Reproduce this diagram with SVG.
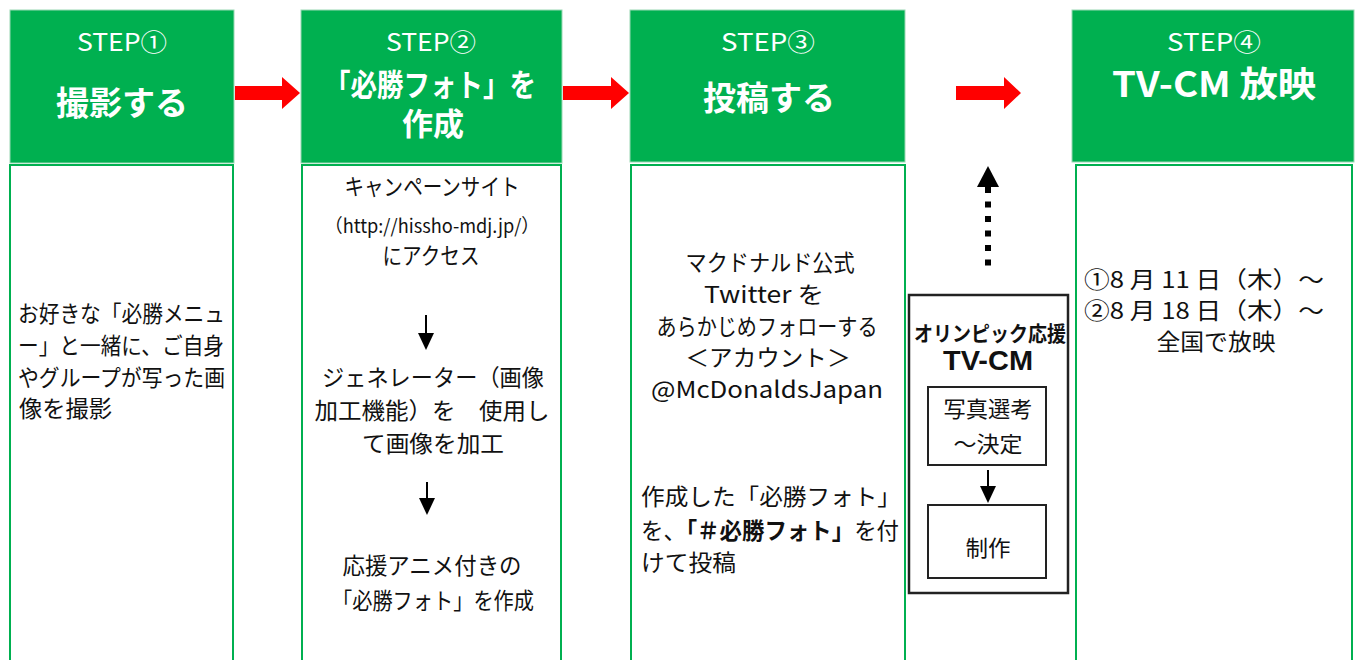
<svg xmlns="http://www.w3.org/2000/svg" width="1357" height="660" viewBox="0 0 1357 660">
<style>
.hdr{fill:#00B050;stroke:#9ad8b4;stroke-width:1}
.bd{fill:#fff;stroke:#00B050;stroke-width:2}
.step{font-family:'Noto Sans CJK JP',sans-serif;font-size:24px;fill:#fff;text-anchor:middle}
.ttl{font-family:'Noto Sans CJK JP',sans-serif;font-size:33px;font-weight:bold;fill:#fff;text-anchor:middle}
.t{font-family:'Noto Sans CJK JP',sans-serif;font-size:23px;fill:#111}
.c{text-anchor:middle}
.b{font-weight:bold}
.red{fill:#FF0000}
.blk{stroke:#000;stroke-width:2;fill:none}
.box{fill:#fff;stroke:#222;stroke-width:2.5}
</style>
<defs>
<marker id="ah" viewBox="0 0 17 16" refX="15" refY="8" markerWidth="17" markerHeight="16" markerUnits="userSpaceOnUse" orient="auto">
<path d="M0,0 L17,8 L0,16 Z" fill="#000"/>
</marker>
</defs>

<g id="step1">
<rect class="hdr" x="10" y="10" width="224" height="153"/>
<text class="step" x="122" y="51" textLength="90" lengthAdjust="spacingAndGlyphs">STEP①</text>
<text class="ttl" x="122" y="115">撮影する</text>
<rect class="bd" x="10" y="165" width="223" height="510"/>
<text class="t" x="18" y="322" textLength="207" lengthAdjust="spacingAndGlyphs">お好きな「必勝メニュ</text>
<text class="t" x="18" y="354" textLength="206" lengthAdjust="spacingAndGlyphs">ー」と一緒に、ご自身</text>
<text class="t" x="18" y="386" textLength="207" lengthAdjust="spacingAndGlyphs">やグループが写った画</text>
<text class="t" x="19" y="417" textLength="93" lengthAdjust="spacingAndGlyphs">像を撮影</text>
</g>

<g id="step2">
<rect class="hdr" x="301" y="10" width="261" height="153"/>
<text class="step" x="431" y="51" textLength="90" lengthAdjust="spacingAndGlyphs">STEP②</text>
<text class="ttl" style="font-size:31px"><tspan x="430" y="96" textLength="212" lengthAdjust="spacingAndGlyphs">「必勝フォト」を</tspan><tspan x="433" y="135">作成</tspan></text>
<rect class="bd" x="302" y="165" width="259" height="510"/>
<text class="t c" x="432" y="195" textLength="175" lengthAdjust="spacingAndGlyphs">キャンペーンサイト</text>
<text class="t c" x="432" y="233" style="font-size:19px" textLength="215" lengthAdjust="spacingAndGlyphs">（http://hissho-mdj.jp/）</text>
<text class="t c" x="431" y="264" textLength="97" lengthAdjust="spacingAndGlyphs">にアクセス</text>
<text class="t c" x="433" y="386" textLength="222" lengthAdjust="spacingAndGlyphs">ジェネレーター（画像</text>
<text class="t c" x="432" y="419" textLength="235" lengthAdjust="spacingAndGlyphs">加工機能）を　使用し</text>
<text class="t c" x="433" y="452" textLength="142" lengthAdjust="spacingAndGlyphs">て画像を加工</text>
<text class="t c" x="432" y="574" textLength="179" lengthAdjust="spacingAndGlyphs">応援アニメ付きの</text>
<text class="t c" x="433" y="609" textLength="202" lengthAdjust="spacingAndGlyphs">「必勝フォト」を作成</text>
</g>

<g id="step3">
<rect class="hdr" x="630" y="10" width="275" height="152"/>
<text class="step" x="768" y="51" textLength="94" lengthAdjust="spacingAndGlyphs">STEP③</text>
<text class="ttl" x="769" y="110">投稿する</text>
<rect class="bd" x="631" y="165" width="274" height="510"/>
<text class="t c" x="770" y="271" textLength="169" lengthAdjust="spacingAndGlyphs">マクドナルド公式</text>
<text class="t c" x="764" y="303" textLength="120" lengthAdjust="spacingAndGlyphs">Twitter を</text>
<text class="t c" x="767" y="335" textLength="221" lengthAdjust="spacingAndGlyphs">あらかじめフォローする</text>
<text class="t c" x="768" y="366" textLength="165" lengthAdjust="spacingAndGlyphs">＜アカウント＞</text>
<text class="t c" x="767" y="398" textLength="232" lengthAdjust="spacingAndGlyphs">@McDonaldsJapan</text>
<text class="t" x="641" y="505" textLength="260" lengthAdjust="spacingAndGlyphs">作成した「必勝フォト」</text>
<text class="t" x="641" y="539" textLength="258" lengthAdjust="spacingAndGlyphs">を、<tspan class="b">「＃必勝フォト」</tspan>を付</text>
<text class="t" x="641" y="571" textLength="95" lengthAdjust="spacingAndGlyphs">けて投稿</text>
</g>

<g id="tvcm">
<rect class="box" x="909" y="295" width="159" height="298"/>
<text class="t c b" x="990" y="341" style="font-size:21px" textLength="152" lengthAdjust="spacingAndGlyphs">オリンピック応援</text>
<text class="t c b" x="988" y="370" style="font-family:'Liberation Sans',sans-serif;font-size:27px" textLength="90" lengthAdjust="spacingAndGlyphs">TV-CM</text>
<g id="select">
<rect class="box" x="928" y="387" width="118" height="78" style="stroke-width:2"/>
<text class="t c" x="988" y="417" style="font-size:22px" textLength="89" lengthAdjust="spacingAndGlyphs">写真選考</text>
<text class="t c" x="988" y="452" style="font-size:22px" textLength="69" lengthAdjust="spacingAndGlyphs">～決定</text>
</g>
<g id="produce">
<rect class="box" x="928" y="505" width="118" height="73" style="stroke-width:2"/>
<text class="t c" x="988" y="556" style="font-size:22px" textLength="45" lengthAdjust="spacingAndGlyphs">制作</text>
</g>
</g>

<g id="step4">
<rect class="hdr" x="1072" y="10" width="282" height="152"/>
<text class="step" x="1214" y="51" textLength="94" lengthAdjust="spacingAndGlyphs">STEP④</text>
<text class="ttl" x="1214" y="97" style="font-size:35px" textLength="204" lengthAdjust="spacingAndGlyphs">TV-CM 放映</text>
<rect class="bd" x="1076" y="165" width="276" height="510"/>
<text class="t" x="1084" y="288" textLength="240" lengthAdjust="spacingAndGlyphs">①8 月 11 日（木）～</text>
<text class="t" x="1084" y="319" textLength="240" lengthAdjust="spacingAndGlyphs">②8 月 18 日（木）～</text>
<text class="t c" x="1216" y="350" textLength="119" lengthAdjust="spacingAndGlyphs">全国で放映</text>
</g>

<g id="connectors">
<path class="red" d="M235,86 H282 V77 L300,93 L282,109 V100 H235 Z"/>
<path class="red" d="M563,86 H611 V77 L629,93 L611,109 V100 H563 Z"/>
<path class="red" d="M956,86 H1004 V77 L1021,93 L1004,109 V100 H956 Z"/>
<line class="blk" x1="426" y1="315" x2="426" y2="348" marker-end="url(#ah)"/>
<line class="blk" x1="427" y1="482" x2="427" y2="513" marker-end="url(#ah)"/>
<line class="blk" x1="988" y1="470" x2="988" y2="501" marker-end="url(#ah)"/>
<line x1="988" y1="187" x2="988" y2="267" stroke="#000" stroke-width="6" stroke-dasharray="6 8.5"/>
<path d="M988,166 L999,187 L977,187 Z" fill="#000"/>
</g>
</svg>
